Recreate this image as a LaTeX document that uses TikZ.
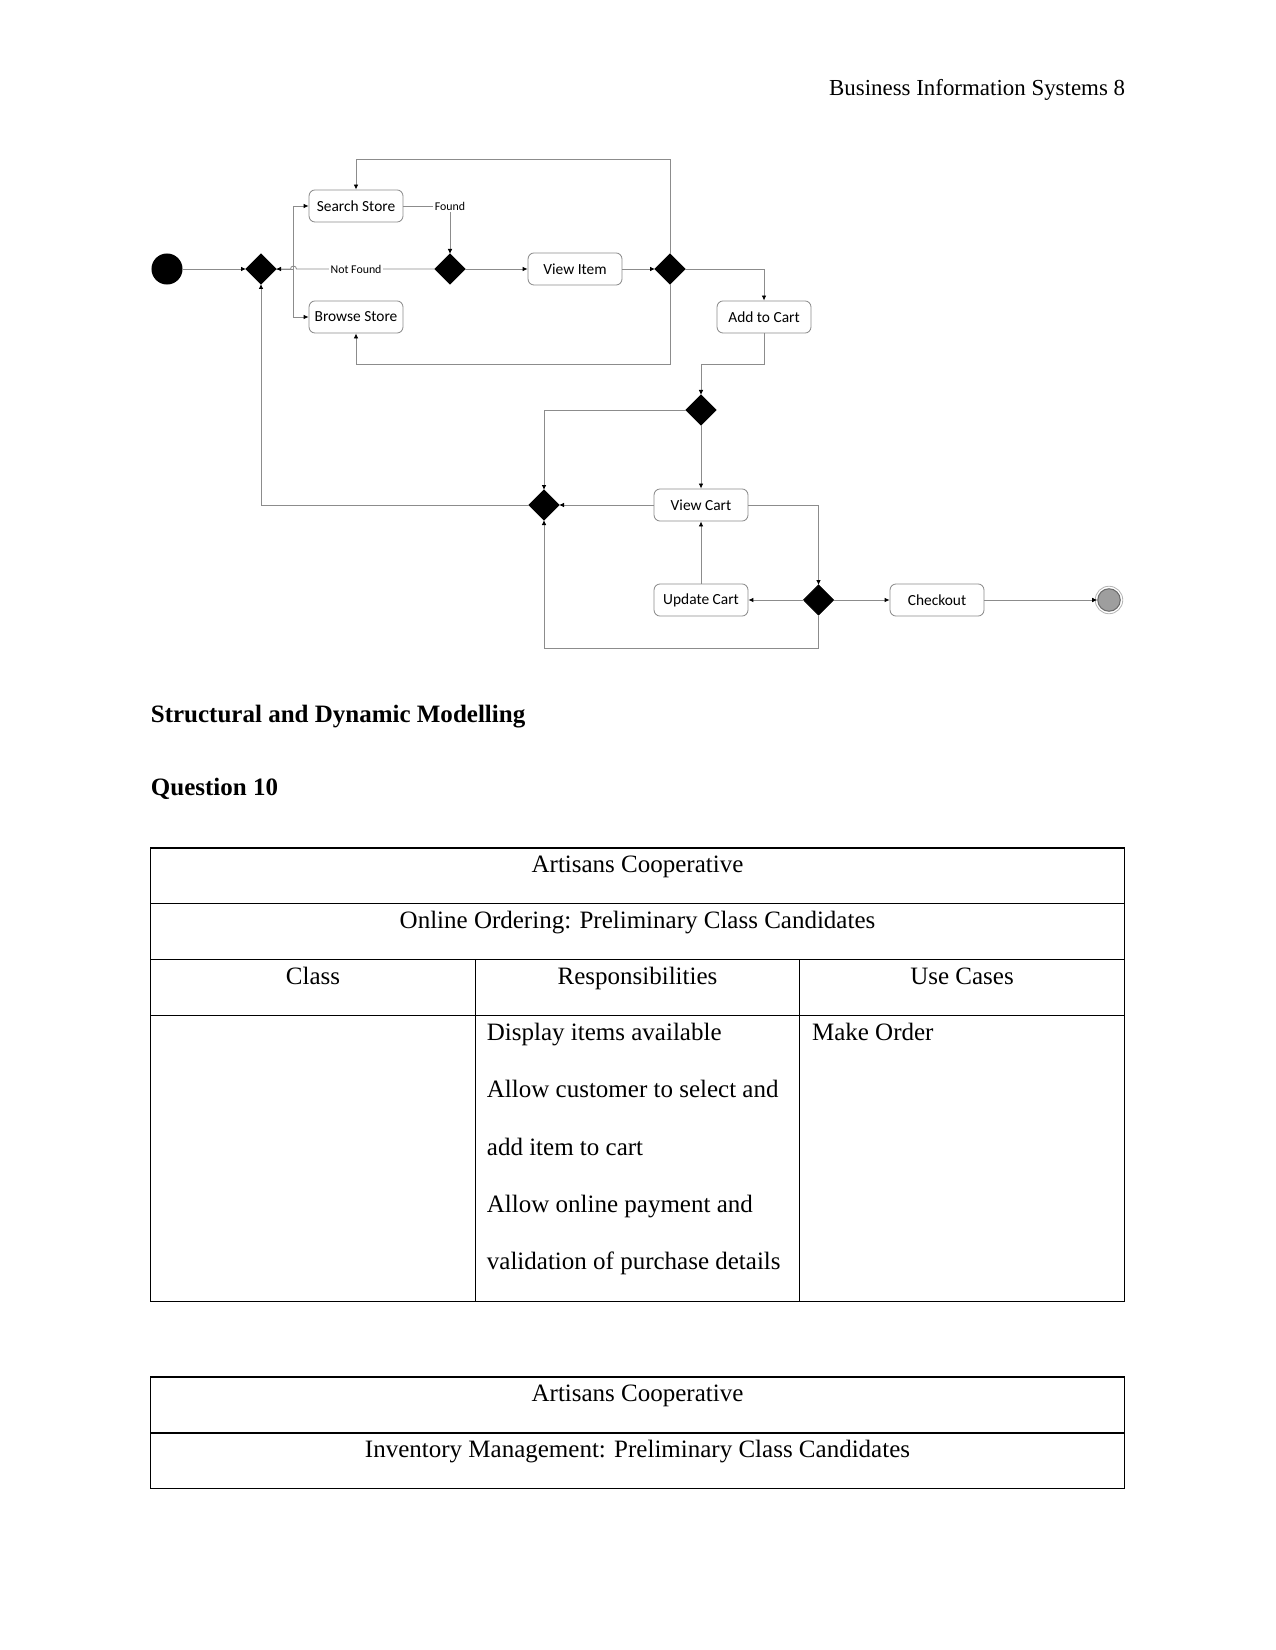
\documentclass[tikz,border=0pt]{standalone}
\usepackage{fontspec}
\setmainfont{Liberation Serif}
\newfontfamily\diagfont{Carlito}
\usetikzlibrary{shapes.geometric,arrows.meta}
\definecolor{lgray}{HTML}{8C8C8C}
\definecolor{fingray}{HTML}{9E9E9E}
\definecolor{findark}{HTML}{6A6A6A}
\definecolor{ringgray}{HTML}{B5B5B5}
\begin{document}
\begin{tikzpicture}[x=0.48pt,y=-0.48pt,
  act/.style={draw=lgray, line width=0.4pt, rounded corners=2.9pt, minimum width=45.1pt, minimum height=15.4pt, inner sep=0pt, fill=white, font=\diagfont\fontsize{7.4}{9}\selectfont},
  dec/.style={diamond, fill=black, draw=black, minimum width=14.4pt, minimum height=14.4pt, inner sep=0pt, outer sep=0pt},
  conn/.style={draw=lgray, line width=0.4pt, -{Latex[length=2.4pt,width=2.2pt,color=black]}},
  lbl/.style={fill=white, inner sep=0.8pt, font=\diagfont\fontsize{5.7}{7}\selectfont},
  startnode/.style={circle, fill=black, minimum size=14.9pt, inner sep=0pt, outer sep=0pt},
  endnode/.style={circle, fill=fingray, draw=findark, line width=0.5pt, minimum size=10.8pt, inner sep=0pt},
  tabtxt/.style={font=\fontsize{12}{14.4}\selectfont, inner sep=0pt, anchor=base},
  tableft/.style={font=\fontsize{12}{14.4}\selectfont, inner sep=0pt, anchor=base west},
  rule/.style={draw=black, line width=0.6pt}
]
\useasboundingbox (0,0) rectangle (1275,1650);

% header
\node[font=\fontsize{11}{13}\selectfont, inner sep=0pt, anchor=base east] (hdr) at (1125.5,95.7) {Business Information Systems 8};

% ---------- activity diagram ----------
\node[startnode] (init) at (167,269) {};
\node[dec] (d1) at (261,269) {};
\node[act] (search) at (356,206) {Search Store};
\node[act] (browse) at (356,317) {Browse Store};
\node[dec] (d2) at (450,269) {};
\node[act] (viewitem) at (575,269) {View Item};
\node[dec] (d3) at (670,269) {};
\node[act] (addcart) at (764,317) {Add to Cart};
\node[dec] (d4) at (701,410) {};
\node[dec] (d5) at (544,505) {};
\node[act] (viewcart) at (701,505) {View Cart};
\node[dec] (d6) at (818.5,600) {};
\node[act] (update) at (701,600) {Update Cart};
\node[act] (checkout) at (937,600) {Checkout};
\node[endnode] (final) at (1109,600) {};
\draw[ringgray, line width=0.4pt] (final) circle[radius=6.6pt];

\coordinate (split) at (293.5,269);

\draw[conn] (init) -- (d1);
\draw[conn] (d1.east) -- (split) |- (search.west);
\draw[conn] (d1.east) -- (split) |- (browse.west);
\draw[conn] (search.east) -| node[lbl] (found) {Found} (d2.north);
\draw[conn] (d2.west) -- node[lbl, pos=0.57] (notfound) {Not Found} (296.5,269)
   arc[start angle=0, end angle=180, radius=1.44pt] -- (d1.east);
\draw[conn] (d2) -- (viewitem);
\draw[conn] (viewitem) -- (d3);
\draw[conn] (d3.north) -- (d3.north |- 0,159) -| (search.north);
\draw[conn] (d3.south) -- (d3.south |- 0,364) -| (browse.south);
\draw[conn] (d3.east) -| (addcart.north);
\draw[conn] (addcart.south) -- (addcart.south |- 0,364) -| (d4.north);
\draw[conn] (d4.west) -| (d5.north);
\draw[conn] (d4.south) -- (viewcart.north);
\draw[conn] (viewcart.west) -- (d5.east);
\draw[conn] (viewcart.east) -| (d6.north);
\draw[conn] (d6.west) -- (update.east);
\draw[conn] (update.north) -- (viewcart.south);
\draw[conn] (d6.east) -- (checkout.west);
\draw[conn] (checkout.east) -- (final.west);
\draw[conn] (d6.south) -- (d6.south |- 0,648) -| (d5.south);
\draw[conn] (d5.west) -| (d1.south);

% ---------- headings ----------
\node[font=\bfseries\fontsize{12}{14.4}\selectfont, inner sep=0pt, anchor=base west] (h1) at (150.5,722.3) {Structural and Dynamic Modelling};
\node[font=\bfseries\fontsize{12}{14.4}\selectfont, inner sep=0pt, anchor=base west] (h2) at (150.5,795.7) {Question 10};

% ---------- table 1 ----------
\draw[rule] (150.4,848) rectangle (1124.6,1301.3);
\draw[rule] (150.4,903.7) -- (1124.6,903.7);
\draw[rule] (150.4,959.6) -- (1124.6,959.6);
\draw[rule] (150.4,1015.5) -- (1124.6,1015.5);
\draw[rule] (475.5,959.6) -- (475.5,1301.3);
\draw[rule] (799.5,959.6) -- (799.5,1301.3);

\node[tabtxt] (t1a) at (637.5,872.3) {Artisans Cooperative};
\node[tabtxt] (t1b) at (637.5,928) {Online Ordering: Preliminary Class Candidates};
\node[tabtxt] (c1) at (313,984.3) {Class};
\node[tabtxt] (c2) at (637.5,984.3) {Responsibilities};
\node[tabtxt] (c3) at (962,984.3) {Use Cases};
\node[tableft] (r1) at (486.5,1040.3) {Display items available};
\node[tableft] (r2) at (486.5,1097.6) {Allow customer to select and};
\node[tableft] (r3) at (486.5,1155) {add item to cart};
\node[tableft] (r4) at (486.5,1212.3) {Allow online payment and};
\node[tableft] (r5) at (486.5,1269.6) {validation of purchase details};
\node[tableft] (u1) at (811.6,1040.3) {Make Order};

% ---------- table 2 ----------
\draw[rule] (150.4,1377) rectangle (1124.6,1488.8);
\draw[rule] (150.4,1433) -- (1124.6,1433);
\node[tabtxt] (t2a) at (637.5,1401.5) {Artisans Cooperative};
\node[tabtxt] (t2b) at (637.5,1457.3) {Inventory Management: Preliminary Class Candidates};
\end{tikzpicture}
\end{document}
